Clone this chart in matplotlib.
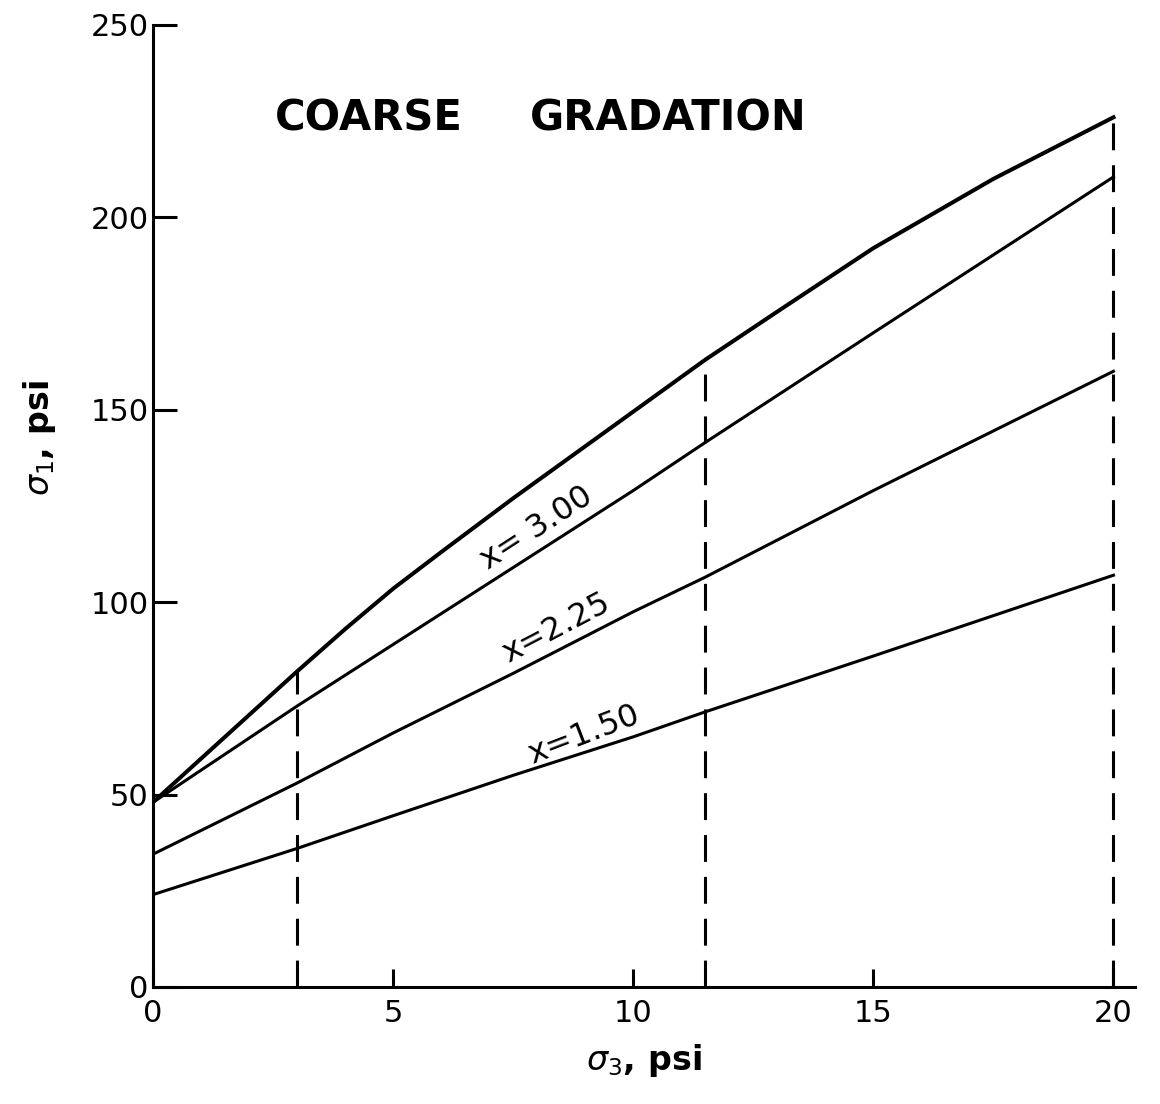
import matplotlib
matplotlib.use("Agg")
import matplotlib.pyplot as plt

# confining pressure (psi) and major principal stress (psi) for each x
sigma3 = [0, 3, 5, 7.5, 10, 11.5, 15, 20]
x_300 = [48, 73, 89, 109, 129, 141.5, 170, 210.5]
x_225 = [34.5, 53, 66, 81.5, 97.5, 106.5, 129, 160]
x_150 = [24, 36, 44.5, 55, 65, 71.5, 86, 107]

# upper envelope, read at a finer spacing
env_sigma3 = [0, 3, 4, 5, 6, 7.5, 8.5, 10, 11.5, 13, 15, 17.5, 20]
envelope = [48, 82, 93, 103.5, 113, 127, 136, 149.5, 163, 175.5, 192, 210, 226]

curve_labels = ["x= 3.00", "x=2.25", "x=1.50"]
cut_sigma3 = [3, 11.5, 20]

xticks = [0, 5, 10, 15, 20]
yticks = [0, 50, 100, 150, 200, 250]

plt.rcParams['font.family'] = ['DejaVu Sans']
fig = plt.figure(figsize=(11.6, 11.04), dpi=100)
ax = fig.add_axes([0.1319, 0.106, 0.8466, 0.8714])

lw = 2.2
ax.plot(env_sigma3, envelope, color='black', lw=2.9, solid_joinstyle='round')
ax.plot(sigma3, x_300, color='black', lw=lw)
ax.plot(sigma3, x_225, color='black', lw=lw)
ax.plot(sigma3, x_150, color='black', lw=lw)

# dashed verticals up to the envelope
for c in cut_sigma3:
    top = envelope[env_sigma3.index(c)]
    ax.plot([c, c], [0, top], color='black', lw=lw,
            linestyle=(0, (8.8, 4.9)))

# curve labels laid along the lines
lab_pos = [(7.98, 119.3, 33), (8.4, 93.3, 27.5), (8.96, 65.5, 21)]
for txt, (lx, ly, rot) in zip(curve_labels, lab_pos):
    ax.text(lx, ly, txt, fontsize=23, rotation=rot, rotation_mode='anchor',
            ha='center', va='center')

ax.text(2.54, 222.7, "COARSE", fontsize=30, fontweight='bold',
        ha='left', va='baseline')
ax.text(7.85, 222.7, "GRADATION", fontsize=30, fontweight='bold',
        ha='left', va='baseline')

ax.set_xlim(0, 20.45)
ax.set_ylim(0, 250)
ax.set_xticks(xticks)
ax.set_yticks(yticks)
ax.set_xticklabels([str(v) for v in xticks], fontsize=22)
ax.set_yticklabels([str(v) for v in yticks], fontsize=22)
ax.tick_params(axis='x', direction='in', length=13, width=lw, pad=9)
ax.tick_params(axis='y', direction='in', length=17, width=lw, pad=3)

for s in ['top', 'right']:
    ax.spines[s].set_visible(False)
for s in ['left', 'bottom']:
    ax.spines[s].set_linewidth(lw)

ax.set_xlabel(r"$\sigma_3$, psi", fontsize=24, fontweight='bold', labelpad=10)
ax.set_ylabel(r"$\sigma_1$, psi", fontsize=24, fontweight='bold')
ax.yaxis.set_label_coords(-0.097, 0.57)

fig.savefig("out.png", dpi=100)
